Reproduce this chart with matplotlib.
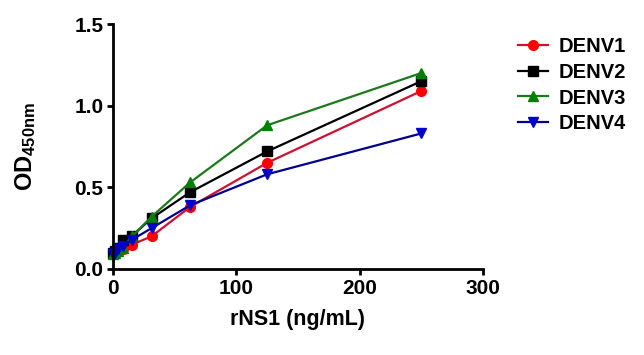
import matplotlib
matplotlib.use("Agg")
import matplotlib.pyplot as plt

plt.rcParams['font.family'] = ['Liberation Sans', 'DejaVu Sans']
plt.rcParams['font.weight'] = 'bold'
plt.rcParams['mathtext.fontset'] = 'custom'
plt.rcParams['mathtext.rm'] = 'Liberation Sans'
plt.rcParams['mathtext.it'] = 'Liberation Sans:italic'
plt.rcParams['mathtext.bf'] = 'Liberation Sans:bold'

conc = [0, 1.95, 3.9, 7.8, 15.6, 31.25, 62.5, 125, 250]
denv1 = [0.09, 0.10, 0.11, 0.12, 0.15, 0.20, 0.38, 0.65, 1.09]
denv2 = [0.10, 0.11, 0.13, 0.18, 0.205, 0.31, 0.47, 0.72, 1.15]
denv3 = [0.09, 0.10, 0.11, 0.13, 0.20, 0.32, 0.53, 0.88, 1.20]
denv4 = [0.09, 0.10, 0.12, 0.14, 0.18, 0.25, 0.39, 0.58, 0.83]
series = [("DENV1", denv1, "#ff0000", "o", "#d01030"),
          ("DENV2", denv2, "#000000", "s", "#000000"),
          ("DENV3", denv3, "#008000", "^", "#1a7a1a"),
          ("DENV4", denv4, "#0000cc", "v", "#00008b")]

fig = plt.figure(figsize=(6.44, 3.55), dpi=100)
ax = fig.add_axes([113/644, 1-269/355, (483-113)/644, (269-24)/355])

for name, vals, mc, mk, lc in series:
    ax.plot(conc, vals, color=lc, lw=1.6, marker=mk, markersize=7,
            markerfacecolor=mc, markeredgecolor=mc, label=name, clip_on=False)

ax.set_xlim(0, 300)
ax.set_ylim(0, 1.5)
ax.set_xticks([0, 100, 200, 300])
ax.set_yticks([0.0, 0.5, 1.0, 1.5])
ax.set_yticklabels(["0.0", "0.5", "1.0", "1.5"])
for s in ['top', 'right']:
    ax.spines[s].set_visible(False)
for s in ['left', 'bottom']:
    ax.spines[s].set_linewidth(2)
ax.tick_params(width=2, length=4, labelsize=15, direction='out', pad=3)
for lab in ax.get_xticklabels() + ax.get_yticklabels():
    lab.set_fontweight('bold')
ax.set_xlabel("rNS1 (ng/mL)", fontsize=15.5, fontweight='bold', labelpad=8)
ax.set_ylabel("OD$_{\\mathrm{450nm}}$", fontsize=17, fontweight='bold', labelpad=26)

leg = ax.legend(loc='upper left', bbox_to_anchor=(1.045, 1.02), frameon=False,
                handlelength=1.5, handletextpad=0.55, labelspacing=0.33,
                prop={'weight': 'bold', 'size': 14.5})
fig.savefig("out.png", dpi=100)
